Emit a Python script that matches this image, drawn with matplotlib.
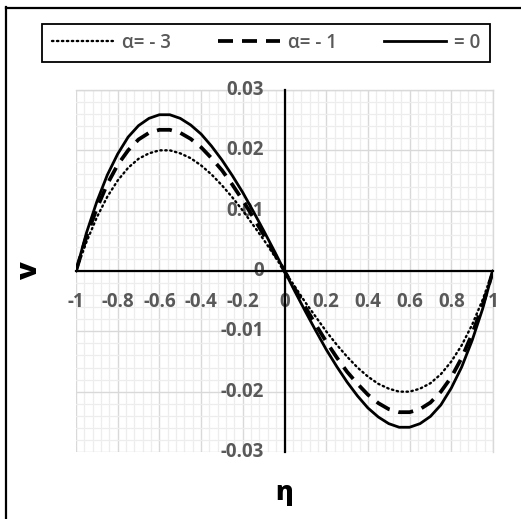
import matplotlib
matplotlib.use("Agg")
import matplotlib.pyplot as plt
import matplotlib.transforms as mtransforms
from matplotlib.lines import Line2D
from matplotlib.ticker import MultipleLocator
import numpy as np

plt.rcParams["font.family"] = ["Open Sans", "DejaVu Sans"]

ETA = np.round(np.arange(-1.0, 1.0001, 0.05), 2)

V_ALPHA_M3 = [
    0.0, 0.0048, 0.0089, 0.0123, 0.0150, 0.0171, 0.0186, 0.0195, 0.0200, 0.0200,
    0.0195, 0.0187, 0.0175, 0.0160, 0.0142, 0.0122, 0.0100, 0.0076, 0.0052, 0.0026,
    0.0,
    -0.0026, -0.0052, -0.0076, -0.0100, -0.0122, -0.0142, -0.0160, -0.0175, -0.0187, -0.0195,
    -0.0200, -0.0200, -0.0195, -0.0186, -0.0171, -0.0150, -0.0123, -0.0089, -0.0048, 0.0,
]
V_ALPHA_M1 = [
    0.0, 0.0057, 0.0104, 0.0144, 0.0176, 0.0200, 0.0218, 0.0229, 0.0234, 0.0234,
    0.0229, 0.0219, 0.0205, 0.0187, 0.0167, 0.0143, 0.0117, 0.0089, 0.0060, 0.0030,
    0.0,
    -0.0030, -0.0060, -0.0089, -0.0117, -0.0143, -0.0167, -0.0187, -0.0205, -0.0219, -0.0229,
    -0.0234, -0.0234, -0.0229, -0.0218, -0.0200, -0.0176, -0.0144, -0.0104, -0.0057, 0.0,
]
V_ALPHA_0 = [
    0.0, 0.0063, 0.0115, 0.0159, 0.0194, 0.0222, 0.0241, 0.0253, 0.0259, 0.0259,
    0.0253, 0.0242, 0.0227, 0.0207, 0.0184, 0.0158, 0.0130, 0.0099, 0.0067, 0.0034,
    0.0,
    -0.0034, -0.0067, -0.0099, -0.0130, -0.0158, -0.0184, -0.0207, -0.0227, -0.0242, -0.0253,
    -0.0259, -0.0259, -0.0253, -0.0241, -0.0222, -0.0194, -0.0159, -0.0115, -0.0063, 0.0,
]
LABELS = ["α= - 3", "α= - 1", "= 0"]

X_TICKS = [-1, -0.8, -0.6, -0.4, -0.2, 0, 0.2, 0.4, 0.6, 0.8, 1]
X_TICK_LABELS = ["-1", "-0.8", "-0.6", "-0.4", "-0.2", "0", "0.2", "0.4", "0.6", "0.8", "1"]
Y_TICKS = [-0.03, -0.02, -0.01, 0, 0.01, 0.02, 0.03]
Y_TICK_LABELS = ["-0.03", "-0.02", "-0.01", "0", "0.01", "0.02", "0.03"]

GRAY = "#595959"

fig = plt.figure(figsize=(5.21, 5.19), dpi=100)
ax = fig.add_axes([76 / 521, 1 - 452 / 519, 417 / 521, 362 / 519])

ax.plot(ETA, V_ALPHA_M3, color="black", lw=1.7, linestyle=(0, (0.6, 1.5)),
        dash_capstyle="round", label=LABELS[0])
ax.plot(ETA, V_ALPHA_M1, color="black", lw=2.7, linestyle=(0, (4.0, 2.4)), label=LABELS[1])
ax.plot(ETA, V_ALPHA_0, color="black", lw=2.0, label=LABELS[2])

ax.set_xlim(-1, 1)
ax.set_ylim(-0.03, 0.03)
ax.xaxis.set_minor_locator(MultipleLocator(0.04))
ax.yaxis.set_minor_locator(MultipleLocator(0.002))
ax.set_xticks(X_TICKS)
ax.set_yticks(Y_TICKS)
ax.set_xticklabels([])
ax.set_yticklabels([])
ax.grid(which="minor", color="#ededed", lw=0.9)
ax.grid(which="major", color="#d9d9d9", lw=1.0)
ax.set_axisbelow(True)

ax.spines["left"].set_position(("data", 0))
ax.spines["bottom"].set_position(("data", 0))
for s in ("left", "bottom"):
    ax.spines[s].set_linewidth(1.6)
    ax.spines[s].set_zorder(2.5)
for s in ("top", "right"):
    ax.spines[s].set_color("#d9d9d9")
    ax.spines[s].set_linewidth(1.0)
    ax.spines[s].set_zorder(0.6)
ax.tick_params(which="both", length=0)

# tick labels as text: above the grid, below the curves
down = mtransforms.ScaledTranslation(0, -31 / 100, fig.dpi_scale_trans)
left = mtransforms.ScaledTranslation(-21 / 100, 0, fig.dpi_scale_trans)
for x, lab in zip(X_TICKS, X_TICK_LABELS):
    ax.text(x, 0, lab, transform=ax.transData + down, ha="center", va="center",
            fontsize=13.5, fontweight="bold", color=GRAY, zorder=1.8, clip_on=False)
for y, lab in zip(Y_TICKS, Y_TICK_LABELS):
    ax.text(0, y, lab, transform=ax.transData + left, ha="right", va="center",
            fontsize=13.5, fontweight="bold", color=GRAY, zorder=1.8, clip_on=False)

fig.text(30 / 521, 1 - 271 / 519, "v", rotation=90, fontsize=21, fontweight="heavy",
         ha="center", va="center")
fig.text(284 / 521, 1 - 493 / 519, "η", fontsize=19, fontweight="heavy",
         ha="center", va="center")

leg = fig.legend(loc="center", bbox_to_anchor=(266 / 521, 1 - 43 / 519), ncol=3,
                 prop={"size": 13.5, "weight": "semibold"}, frameon=True, fancybox=False,
                 framealpha=1, handlelength=3.3, columnspacing=2.5, handletextpad=0.45,
                 borderpad=0.5, borderaxespad=0, labelcolor=GRAY)
leg.get_frame().set_edgecolor("black")
leg.get_frame().set_linewidth(1.3)

# outer chart frame (cropped on right and bottom)
fig.add_artist(Line2D([5.5 / 521, 5.5 / 521], [0, 1 - 7 / 519], transform=fig.transFigure,
                      color="black", lw=1.6))
fig.add_artist(Line2D([5.5 / 521, 1], [1 - 7.5 / 519, 1 - 7.5 / 519], transform=fig.transFigure,
                      color="black", lw=1.6))

fig.savefig("out.png", dpi=100)
